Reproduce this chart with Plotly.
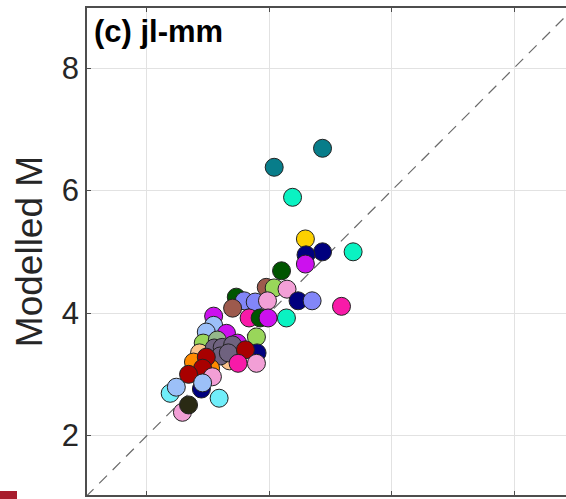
import plotly.graph_objects as go

# Observed (x) vs Modelled M (y); group names map to colours
obs_x = [4.08, 4.87, 4.38, 4.59, 4.87, 5.37, 4.60, 4.59, 4.20,
         3.95, 4.08, 4.29, 4.47, 4.70, 5.18, 4.28,
         3.46, 3.59, 3.77, 3.97, 3.40, 3.67, 3.85, 3.98,
         3.09, 3.09, 2.97, 3.30, 3.48, 3.79, 2.92, 3.15,
         3.35, 2.86,
         3.10, 3.23, 3.40, 3.20, 3.33,
         3.80, 3.61, 3.49, 3.79,
         2.76, 3.04, 2.97, 2.91, 2.68,
         3.07, 2.89, 2.91, 2.38, 2.48, 3.18, 2.58, 2.68]
mod_y = [6.38, 6.69, 5.89, 5.21, 5.00, 5.00, 4.95, 4.80, 4.69,
         4.42, 4.41, 4.39, 4.20, 4.20, 4.11, 3.92,
         4.26, 4.20, 4.18, 4.20, 4.08, 3.92, 3.92, 3.92,
         3.95, 3.80, 3.69, 3.67, 3.51, 3.61, 3.51, 3.56,
         3.22, 3.35,
         3.43, 3.44, 3.48, 3.30, 3.35,
         3.35, 3.40, 3.18, 3.18,
         3.20, 3.10, 3.28, 3.10, 3.00,
         2.96, 2.76, 2.86, 2.69, 2.79, 2.61, 2.38, 2.50]
group = ["teal", "teal", "mint", "gold", "navy", "mint", "navy", "purple", "darkgreen",
         "brown", "lightgreen", "pink", "navy", "periwinkle", "hotpink", "mint",
         "darkgreen", "periwinkle", "periwinkle", "pink", "brown", "hotpink", "darkgreen", "purple",
         "purple", "lightblue", "lightblue", "purple", "purple", "lightgreen", "lightgreen", "sage",
         "peach", "peach",
         "slate", "slate", "slate", "slate", "slate",
         "navy", "darkred", "hotpink", "pink",
         "orange", "orange", "darkred", "darkred", "darkred",
         "pink", "navy", "lightblue", "cyan", "lightblue", "cyan", "pink", "olive"]

palette = {
    "teal": "#087d8a", "mint": "#0af2c2", "gold": "#fcd000", "navy": "#00007e",
    "purple": "#cc11ee", "darkgreen": "#005500", "brown": "#9d5a4d",
    "lightgreen": "#99d65a", "pink": "#f29fd6", "periwinkle": "#8286f8",
    "hotpink": "#f81aa8", "lightblue": "#9cc0f8", "sage": "#94b88a",
    "slate": "#6f627f", "darkred": "#a80000", "peach": "#fcc48c",
    "orange": "#ff8a00", "cyan": "#70eefa", "olive": "#2a2a14",
}

diag = [1, 9]
title_text = "(c) jl-mm"
y_title = "Modelled M"
y_ticks = [2, 4, 6, 8]
x_ticks = [2, 4, 6, 8]

fig = go.Figure()
fig.add_trace(go.Scatter(x=diag, y=diag, mode="lines",
                         line=dict(color="#6a6a6a", width=1.2, dash="11px,8px"),
                         hoverinfo="skip", showlegend=False))
fig.add_trace(go.Scatter(
    x=obs_x, y=mod_y, mode="markers",
    marker=dict(size=18, color=[palette[g] for g in group],
                line=dict(color="#222222", width=1), opacity=1),
    showlegend=False))

W, H = 566, 499
L, R, T, B = 87, 0, 8, 4
pw, ph = W - L - R, H - T - B

fig.update_layout(
    width=W, height=H,
    margin=dict(l=L, r=R, t=T, b=B, pad=0),
    plot_bgcolor="white", paper_bgcolor="white",
    font=dict(family="Arial, Liberation Sans, sans-serif", color="#262626"),
    xaxis=dict(range=[1.02, 8.85], tickvals=x_ticks, showticklabels=False,
               showgrid=True, gridcolor="#e2e2e2", gridwidth=1,
               showline=True, linecolor="#4d4d4d", linewidth=1.5,
               mirror="ticks", ticks="inside", ticklen=4, tickcolor="#4d4d4d",
               zeroline=False),
    yaxis=dict(range=[1.03, 8.98], tickvals=y_ticks,
               tickfont=dict(size=31, color="#262626"),
               showgrid=True, gridcolor="#e2e2e2", gridwidth=1,
               showline=True, linecolor="#4d4d4d", linewidth=1.5,
               mirror=False, ticks="inside", ticklen=4, tickcolor="#4d4d4d",
               zeroline=False,
               title=dict(text=y_title, font=dict(size=37, color="#262626"), standoff=8)),
    annotations=[dict(text="<b>" + title_text + "</b>", xref="paper", yref="paper",
                      x=(92 - L) / pw, y=1 - (12 - T) / ph, xanchor="left", yanchor="top",
                      showarrow=False, font=dict(size=31, color="#000000"))],
    shapes=[dict(type="rect", xref="paper", yref="paper",
                 x0=(0 - L) / pw, x1=(17 - L) / pw,
                 y0=(H - B - 499) / ph, y1=(H - B - 491) / ph,
                 fillcolor="#a81c2c", line=dict(width=0), layer="above")],
)

fig.write_html("out.html")
